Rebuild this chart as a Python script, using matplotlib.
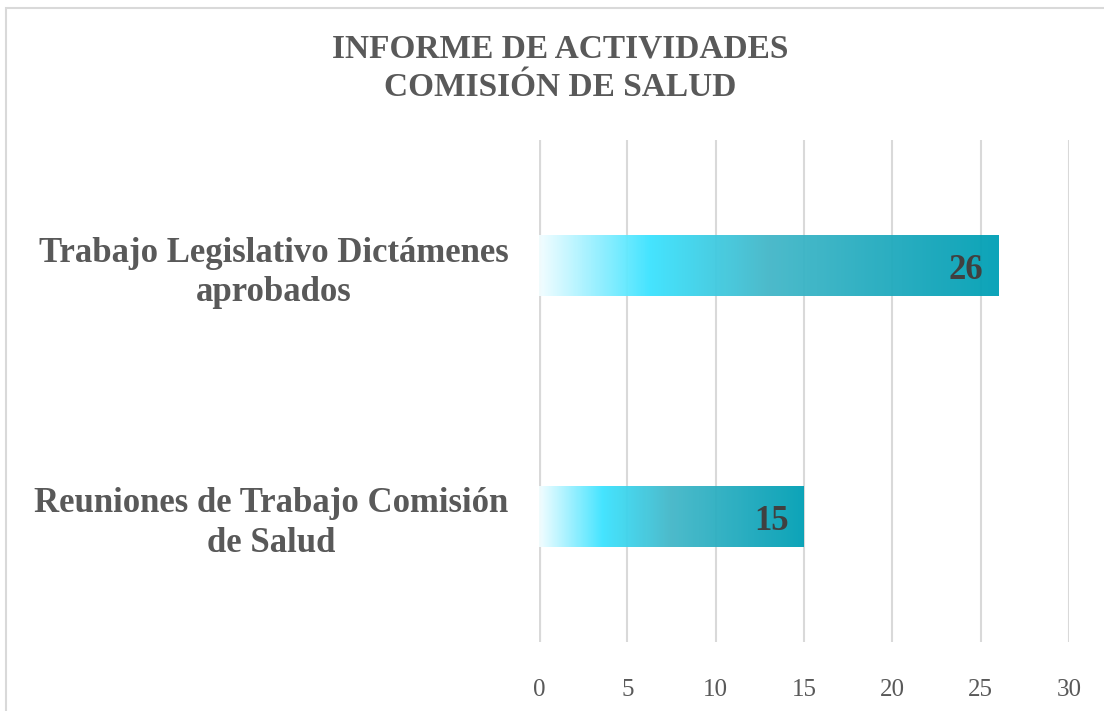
import numpy as np
import matplotlib
matplotlib.use('agg')
import matplotlib.pyplot as plt  # noqa
from matplotlib.colors import LinearSegmentedColormap
from matplotlib.patches import Rectangle

categories = ['Reuniones de Trabajo Comisión\nde Salud',
              'Trabajo Legislativo Dictámenes\naprobados']
values = [15, 26]
ticks = [0, 5, 10, 15, 20, 25, 30]
title = 'INFORME DE ACTIVIDADES\nCOMISIÓN DE SALUD'

plt.rcParams['font.family'] = ['Liberation Serif', 'DejaVu Serif']

grey = '#595959'
cmap = LinearSegmentedColormap.from_list(
    'bar', [(0.0, '#f2fdff'), (0.24, '#3be3ff'), (0.5, '#43b7c8'),
            (1.0, '#009fb5')])

fig = plt.figure(figsize=(11.04, 7.11), dpi=100)
fig.patches.append(Rectangle((6 / 1104, -0.1), 1.2, (711 - 8) / 711 + 0.1,
                             transform=fig.transFigure, fill=False,
                             edgecolor='#d9d9d9', linewidth=1.5))

ax = fig.add_axes([539 / 1104, 69 / 711, 530 / 1104, 502 / 711])

for x in ticks:
    ax.axvline(x, color='#d9d9d9', lw=3 if x == 0 else 1.5, zorder=1)

h = 0.24
grad = np.linspace(0, 1, 256).reshape(1, -1)
for i, v in enumerate(values):
    ax.imshow(grad, cmap=cmap, aspect='auto', alpha=0.95, zorder=2,
              extent=[0, v, i - h / 2, i + h / 2])
    ax.text(v - 0.85, i - 0.02, str(v), ha='right', va='center',
            fontsize=25, fontweight='bold', color='#404040', zorder=3)

ax.set_xlim(0, 30)
ax.set_ylim(-0.5, len(values) - 0.5)

ax.set_xticks(ticks)
ax.set_xticklabels([str(t) for t in ticks], fontsize=18, color=grey)
ax.set_yticks(range(len(categories)))
ax.set_yticklabels(categories, fontsize=25, fontweight='bold', color=grey,
                   multialignment='center', linespacing=1.25)
ax.tick_params(axis='x', length=0, pad=27)
ax.tick_params(axis='y', length=0, pad=22)
for s in ax.spines.values():
    s.set_visible(False)

fig.text(560 / 1104, 1 - 68 / 711, title, ha='center', va='center',
         fontsize=24, fontweight='bold', color=grey, linespacing=1.3)

plt.savefig('out.png')
